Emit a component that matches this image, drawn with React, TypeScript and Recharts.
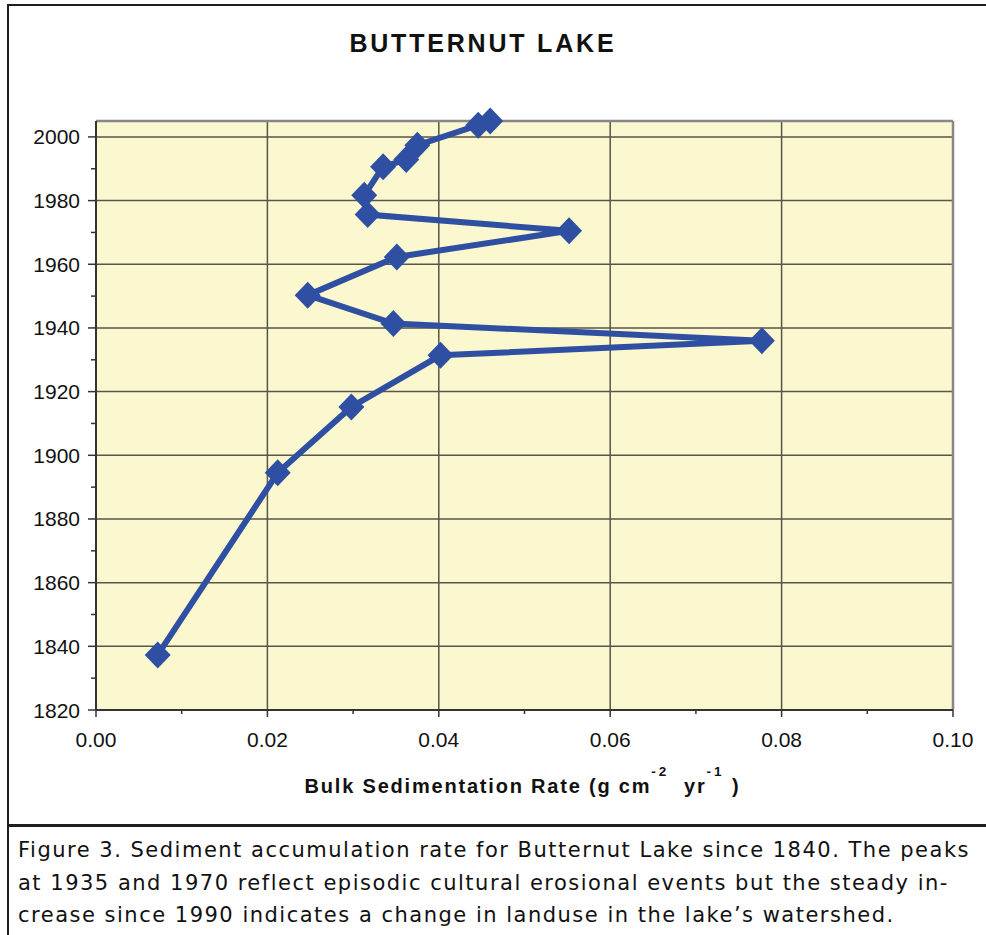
import React from 'react';
import {
  ScatterChart,
  Scatter,
  XAxis,
  YAxis,
  CartesianGrid,
  ReferenceLine,
} from 'recharts';

// ---- data ----
const rates = [0.0072, 0.0212, 0.0298, 0.0402, 0.0777, 0.0347, 0.0247, 0.0351, 0.0552, 0.0317, 0.0313, 0.0335, 0.0362, 0.0375, 0.0446, 0.046];
const years = [1837.3, 1894.5, 1915.2, 1931.4, 1936.0, 1941.4, 1950.3, 1962.3, 1970.5, 1975.6, 1981.7, 1990.6, 1992.9, 1997.4, 2003.7, 2005.0];
const xTicks = [0, 0.01, 0.02, 0.03, 0.04, 0.05, 0.06, 0.07, 0.08, 0.09, 0.1];
const yTicks = [1820, 1830, 1840, 1850, 1860, 1870, 1880, 1890, 1900, 1910, 1920, 1930, 1940, 1950, 1960, 1970, 1980, 1990, 2000];
const xGrid = [0.02, 0.04, 0.06, 0.08];
const yGrid = [1840, 1860, 1880, 1900, 1920, 1940, 1960, 1980, 2000];
const title = 'BUTTERNUT LAKE';
const captionLines = [
  'Figure 3. Sediment accumulation rate for Butternut Lake since 1840. The peaks',
  'at 1935 and 1970 reflect episodic cultural erosional events but the steady in-',
  'crease since 1990 indicates a change in landuse in the lake\u2019s watershed.',
];

const data = rates.map((r, i) => ({ rate: r, year: years[i] }));

const BLUE = '#2F4FA2';
const GRID = '#57564a';
const FONT = '"Liberation Sans", Arial, sans-serif';

const Diamond = (props: any) => {
  const { cx, cy } = props;
  if (cx == null || cy == null) return null;
  const hw = 13;
  const hh = 13.5;
  return (
    <polygon
      points={`${cx},${cy - hh} ${cx + hw},${cy} ${cx},${cy + hh} ${cx - hw},${cy}`}
      fill={BLUE}
    />
  );
};

const XTick = (props: any) => {
  const { x, y, payload, index } = props;
  const major = index % 2 === 0;
  return (
    <g>
      <line x1={x} y1={y} x2={x} y2={y + (major ? 7 : 4)} stroke="#333" strokeWidth={1.5} />
      {major && (
        <text x={x} y={y + 37} textAnchor="middle" fontFamily={FONT} fontSize={21} fill="#111">
          {Number(payload.value).toFixed(2)}
        </text>
      )}
    </g>
  );
};

const YTick = (props: any) => {
  const { x, y, payload } = props;
  const major = payload.value % 20 === 0;
  return (
    <g>
      <line x1={x - (major ? 8 : 5)} y1={y} x2={x} y2={y} stroke="#333" strokeWidth={1.5} />
      {major && (
        <text x={x - 16} y={y + 7.5} textAnchor="end" fontFamily={FONT} fontSize={21} fill="#111">
          {payload.value}
        </text>
      )}
    </g>
  );
};

const XLabel = (props: any) => {
  const vb = props.viewBox || { x: 96, y: 710, width: 857 };
  const cx = vb.x + vb.width / 2 - 2;
  const y = vb.y + 83;
  return (
    <text x={cx} y={y} textAnchor="middle" fontFamily={FONT} fontWeight="bold" fontSize={20} letterSpacing={1.8} fill="#111">
      <tspan>Bulk Sedimentation Rate (g cm</tspan>
      <tspan dy={-17} fontSize={13.5} letterSpacing={3}>-2</tspan>
      <tspan dy={17}>{'\u00a0\u00a0yr'}</tspan>
      <tspan dy={-17} fontSize={13.5} letterSpacing={3}>-1</tspan>
      <tspan dy={17}>{'\u00a0)'}</tspan>
    </text>
  );
};

export default function App() {
  return (
    <div style={{ position: 'absolute', left: 0, top: 0, width: 986, height: 935, background: '#fff', overflow: 'hidden' }}>
      {/* chart frame */}
      <div style={{ position: 'absolute', left: 7, top: 4, width: 1010, height: 822, border: '2px solid #1e1e1e', boxSizing: 'border-box' }} />
      {/* caption frame */}
      <div style={{ position: 'absolute', left: 7, top: 824, width: 1010, height: 200, borderTop: '3px solid #1e1e1e', borderLeft: '2px solid #1e1e1e', boxSizing: 'border-box' }} />
      <svg style={{ position: 'absolute', left: 0, top: 0 }} width={986} height={80}>
        <text x={481.5 + 1.4} y={51.5} textAnchor="middle" fontFamily={FONT} fontWeight="bold" fontSize={25} letterSpacing={2.8} fill="#111">
          {title}
        </text>
      </svg>
      <div style={{ position: 'absolute', left: 0, top: 0 }}>
        <ScatterChart width={986} height={830} margin={{ top: 121, right: 33, bottom: 90, left: 36 }}>
          <CartesianGrid
            fill="#FBF8D0"
            stroke={GRID}
            strokeWidth={1.5}
            horizontalValues={yGrid}
            verticalValues={xGrid}
          />
          <XAxis
            type="number"
            dataKey="rate"
            domain={[0, 0.1]}
            ticks={xTicks}
            interval={0}
            tickSize={0}
            tickMargin={0}
            tickLine={false}
            tick={<XTick />}
            height={30}
            axisLine={{ stroke: '#333', strokeWidth: 2 }}
            label={<XLabel />}
          />
          <YAxis
            type="number"
            dataKey="year"
            domain={[1820, 2005]}
            ticks={yTicks}
            interval={0}
            tickSize={0}
            tickMargin={0}
            tickLine={false}
            tick={<YTick />}
            width={60}
            axisLine={{ stroke: '#333', strokeWidth: 2 }}
          />
          <ReferenceLine y={2005} stroke="#888" strokeWidth={2.5} />
          <ReferenceLine x={0.1} stroke="#888" strokeWidth={2.5} />
          <Scatter
            data={data}
            line={{ stroke: BLUE, strokeWidth: 6 }}
            lineType="joint"
            shape={<Diamond />}
            fill={BLUE}
            isAnimationActive={false}
          />
        </ScatterChart>
      </div>
      <div
        style={{
          position: 'absolute',
          left: 18,
          top: 834,
          fontFamily: '"DejaVu Sans", Verdana, sans-serif',
          fontSize: 21,
          letterSpacing: 1.5,
          lineHeight: '32.5px',
          color: '#111',
          whiteSpace: 'nowrap',
        }}
      >
        {captionLines.map((l, i) => (
          <div key={i}>{l}</div>
        ))}
      </div>
    </div>
  );
}
